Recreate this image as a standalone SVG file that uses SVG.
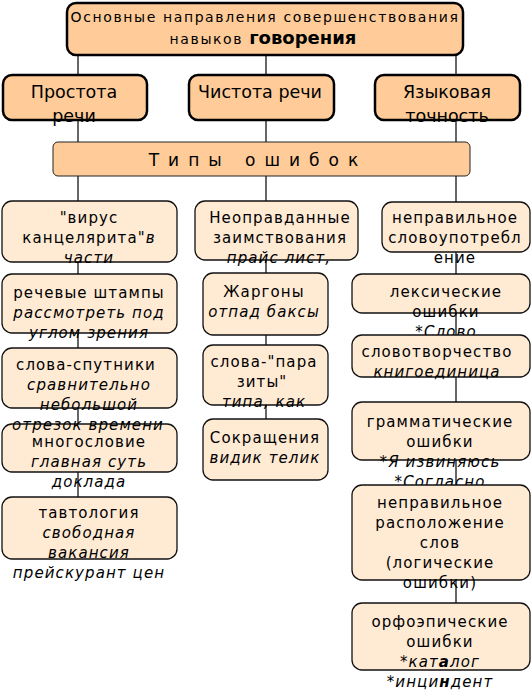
<svg xmlns="http://www.w3.org/2000/svg" width="531" height="694" viewBox="0 0 531 694">
<style>
text{font-family:"DejaVu Sans","Verdana",sans-serif;fill:#000;text-anchor:middle}
.t{font-size:14px;letter-spacing:1.6px}
.c{font-size:15px;letter-spacing:1.1px}
.h{font-size:17.5px}
.b{font-weight:bold}
.i{font-style:italic}
.top{fill:#FFCC99;stroke:#000;stroke-width:2.5}
.mid{fill:#FFCC99;stroke:#222;stroke-width:1}
.box{fill:#FFEAD4;stroke:#111;stroke-width:1.3}
.ln{stroke:#000;stroke-width:1.2;fill:none}
</style>
<g id="connectors">
<line class="ln" x1="78" y1="55" x2="78" y2="497"/>
<line class="ln" x1="266" y1="55" x2="266" y2="419"/>
<line class="ln" x1="456" y1="55" x2="456" y2="603"/>
</g>
<g id="title">
<rect class="top" x="67" y="3" width="396" height="52" rx="9"/>
<text class="t" x="265" y="22">Основные направления совершенствования</text>
<text x="263" y="44"><tspan class="t">навыков </tspan><tspan class="b" style="font-size:18px">говорения</tspan></text>
</g>
<g id="prostota">
<rect class="top" x="3" y="75" width="144" height="45" rx="9"/>
<text class="h" x="74" y="98">Простота</text>
<text class="h" x="74" y="122">речи</text>
</g>
<g id="chistota">
<rect class="top" x="189" y="75" width="145" height="45" rx="9"/>
<text class="h" x="260" y="98">Чистота речи</text>
</g>
<g id="tochnost">
<rect class="top" x="375" y="75" width="145" height="45" rx="9"/>
<text class="h" x="447" y="98">Языковая</text>
<text class="h" x="447" y="122">точность</text>
</g>
<g id="tipy">
<rect class="mid" x="53" y="142" width="417" height="34" rx="5"/>
<text x="258" y="166" style="font-size:17px;letter-spacing:9px">Типы  ошибок</text>
</g>
<g id="c1n1">
<rect class="box" x="2" y="201" width="175" height="61" rx="10"/>
<text class="c" x="89" y="223">"вирус</text>
<text class="c" x="89" y="243">канцелярита"<tspan class="i">в</tspan></text>
<text class="c i" x="89" y="263">части</text>
</g>
<g id="c1n2">
<rect class="box" x="2" y="274" width="175" height="59" rx="10"/>
<text class="c" x="89" y="298">речевые штампы</text>
<text class="c i" x="89" y="318">рассмотреть под</text>
<text class="c i" x="89" y="338">углом зрения</text>
</g>
<g id="c1n4">
<rect class="box" x="2" y="424" width="175" height="48" rx="10"/>
<text class="c" x="89" y="447">многословие</text>
<text class="c i" x="89" y="467">главная суть</text>
<text class="c i" x="89" y="487">доклада</text>
</g>
<g id="c1n3">
<rect class="box" x="2" y="348" width="175" height="60" rx="10"/>
<text class="c" x="86" y="370">слова-спутники</text>
<text class="c i" x="89" y="390">сравнительно</text>
<text class="c i" x="89" y="410">небольшой</text>
<text class="c i" x="88" y="430">отрезок времени</text>
</g>
<g id="c1n5">
<rect class="box" x="2" y="497" width="175" height="62" rx="10"/>
<text class="c" x="89" y="518">тавтология</text>
<text class="c i" x="89" y="538">свободная</text>
<text class="c i" x="89" y="558">вакансия</text>
<text class="c i" x="89" y="578">прейскурант цен</text>
</g>
<g id="c2n1">
<rect class="box" x="195" y="201" width="163" height="59" rx="10"/>
<text class="c" x="280" y="223">Неоправданные</text>
<text class="c" x="280" y="243">заимствования</text>
<text class="c i" x="279" y="263">прайс лист,</text>
</g>
<g id="c2n2">
<rect class="box" x="203" y="273" width="125" height="62" rx="10"/>
<text class="c" x="264" y="297">Жаргоны</text>
<text class="c i" x="264" y="317">отпад баксы</text>
</g>
<g id="c2n3">
<rect class="box" x="203" y="345" width="125" height="60" rx="10"/>
<text class="c" x="264" y="367">слова-"пара</text>
<text class="c" x="262" y="387">зиты"</text>
<text class="c i" x="264" y="407">типа, как</text>
</g>
<g id="c2n4">
<rect class="box" x="203" y="419" width="125" height="61" rx="10"/>
<text class="c" x="265" y="443">Сокращения</text>
<text class="c i" x="265" y="463">видик телик</text>
</g>
<g id="c3n1">
<rect class="box" x="382" y="202" width="148" height="50" rx="10"/>
<text class="c" x="455" y="223">неправильное</text>
<text class="c" x="455" y="243">словоупотребл</text>
<text class="c" x="455" y="263">ение</text>
</g>
<g id="c3n2">
<rect class="box" x="352" y="274" width="178" height="39" rx="10"/>
<text class="c" x="446" y="297">лексические</text>
<text class="c" x="446" y="317">ошибки</text>
<text class="c" x="446" y="337">*<tspan class="i">Слово</tspan></text>
</g>
<g id="c3n3">
<rect class="box" x="352" y="335" width="178" height="42" rx="10"/>
<text class="c" x="437" y="357">словотворчество</text>
<text class="c i" x="437" y="377">книгоединица</text>
</g>
<g id="c3n4">
<rect class="box" x="352" y="402" width="178" height="58" rx="10"/>
<text class="c" x="440" y="427">грамматические</text>
<text class="c" x="440" y="447">ошибки</text>
<text class="c" x="440" y="467">*<tspan class="i">Я извиняюсь</tspan></text>
<text class="c" x="440" y="487">*<tspan class="i">Согласно</tspan></text>
</g>
<g id="c3n5">
<rect class="box" x="352" y="485" width="178" height="95" rx="10"/>
<text class="c" x="440" y="508">неправильное</text>
<text class="c" x="440" y="528">расположение</text>
<text class="c" x="440" y="548">слов</text>
<text class="c" x="440" y="568">(логические</text>
<text class="c" x="440" y="588">ошибки)</text>
</g>
<g id="c3n6">
<rect class="box" x="352" y="603" width="178" height="67" rx="10"/>
<text class="c" x="440" y="627">орфоэпические</text>
<text class="c" x="440" y="647">ошибки</text>
<text class="c" x="440" y="667">*<tspan class="i">кат</tspan><tspan class="i b">а</tspan><tspan class="i">лог</tspan></text>
<text class="c" x="440" y="687">*<tspan class="i">инци</tspan><tspan class="i b">н</tspan><tspan class="i">дент</tspan></text>
</g>
</svg>
